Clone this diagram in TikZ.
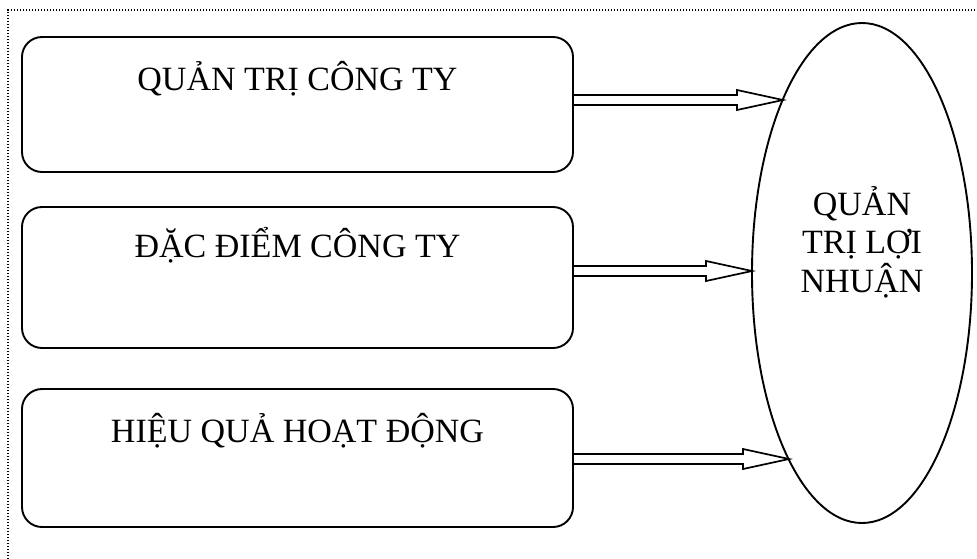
\documentclass[tikz,border=0pt]{standalone}
\usepackage{fontspec}
\setmainfont{Liberation Serif}
\usetikzlibrary{shapes.geometric,calc}
\begin{document}
\begin{tikzpicture}[x=1pt,y=-1pt,
  boxstyle/.style={draw, line width=1.9pt, rounded corners=20pt, rectangle, minimum width=551pt, inner sep=0pt},
  lbl/.style={font=\fontsize{34}{38}\selectfont, anchor=base, inner sep=0pt},
  arr/.style={draw, line width=1.7pt, line join=miter},
  frame/.style={line width=1.4pt, dash pattern=on 1.3pt off 1.7pt}
]
\useasboundingbox (0,0) rectangle (977,558);
\begin{scope}
\clip (0,0) rectangle (977,558);
\coordinate (fa) at (990,10);
\coordinate (fb) at (8,10);
\coordinate (fc) at (8,570);
\draw[frame] (fa) -- (fb) -- (fc);
\end{scope}

\node[boxstyle, minimum height=135pt] (box1) at (297.5,104.5) {};
\node[boxstyle, minimum height=141pt] (box2) at (297.5,277.5) {};
\node[boxstyle, minimum height=138pt] (box3) at (297.5,458) {};

\node[lbl] (t1) at (297.5,90) {QUẢN TRỊ CÔNG TY};
\node[lbl] (t2) at (297.5,257) {ĐẶC ĐIỂM CÔNG TY};
\node[lbl] (t3) at (297.5,442) {HIỆU QUẢ HOẠT ĐỘNG};

\node[draw, ellipse, line width=1.9pt, minimum width=220pt, minimum height=500pt, inner sep=0pt] (ell) at (862,273) {};
\node[lbl] (e1) at (862,215) {QUẢN};
\node[lbl] (e2) at (862,253) {TRỊ LỢI};
\node[lbl] (e3) at (862,292) {NHUẬN};

\coordinate (s1) at (box1.east |- 0,100);
\coordinate (p1) at (783,100);
\coordinate (s2) at (box2.east |- 0,271);
\coordinate (p2) at (752,271);
\coordinate (s3) at (box3.east |- 0,459);
\coordinate (p3) at (789,459);

\foreach \s/\p in {s1/p1,s2/p2,s3/p3}{
  \draw[arr] ($(\s)+(0,-5)$) -- ($(\p)+(-46,-5)$) -- ($(\p)+(-46,-10)$) -- (\p)
    -- ($(\p)+(-46,10)$) -- ($(\p)+(-46,5)$) -- ($(\s)+(0,5)$);
}
\end{tikzpicture}
\end{document}
